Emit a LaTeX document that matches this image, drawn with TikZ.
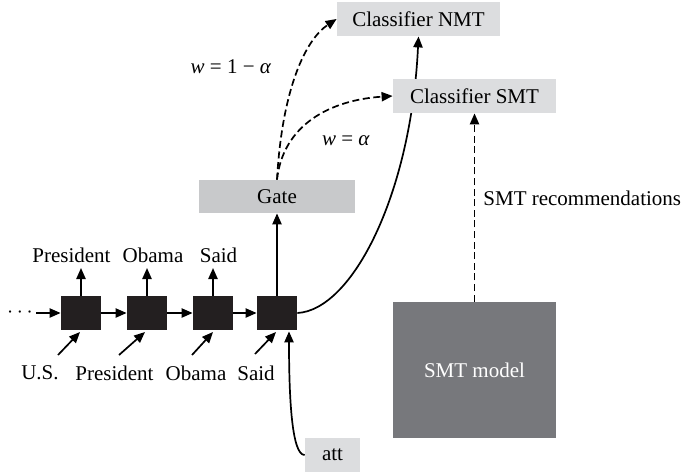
\documentclass[tikz,border=0pt]{standalone}
\usepackage{fontspec}
\setmainfont{Liberation Serif}
\usetikzlibrary{arrows.meta}
\pgfdeclarelayer{bg}
\pgfsetlayers{bg,main}
\definecolor{cellc}{HTML}{231F20}
\definecolor{lightc}{HTML}{DCDDDF}
\definecolor{gatec}{HTML}{C8C9CB}
\definecolor{modelc}{HTML}{77787C}
\begin{document}
\begin{tikzpicture}[x=0.5pt,y=-0.5pt,
  font=\fontsize{10.5pt}{12pt}\selectfont,
  arr/.style={line width=0.85pt,-{Triangle[length=5.5pt,width=4.6pt]}},
  dsh/.style={arr,dash pattern=on 3.5pt off 1.8pt},
  cell/.style={fill=cellc,draw=none,minimum width=20pt,minimum height=17pt,inner sep=0pt},
  lbox/.style={fill=lightc,draw=none,inner sep=0pt,minimum width=81.5pt,minimum height=17pt},
  word/.style={inner sep=0pt}]
\useasboundingbox (0,0) rectangle (683,471);

% boxes
\node[lbox] (nmt) at (418.5,19) {Classifier NMT};
\node[lbox] (smt) at (474.5,96) {Classifier SMT};
\node[lbox,fill=gatec,minimum width=78pt,minimum height=16.5pt] (gate) at (277,196.5) {Gate};
\node[fill=modelc,text=white,inner sep=0pt,minimum width=81.5pt,minimum height=68pt] (model) at (474.5,370) {SMT model};
\node[lbox,minimum width=27.5pt] (att) at (332.5,455) {att};

% RNN cells
\node[cell] (b1) at (81,313) {};
\node[cell] (b2) at (147,313) {};
\node[cell] (b3) at (213,313) {};
\node[cell] (b4) at (277,313) {};

\node[word] (dots) at (20,313) {$\cdots$};
\coordinate (din) at (36,313);
\draw[arr] (din) -- (b1.west);
\draw[arr] (b1.east) -- (b2.west);
\draw[arr] (b2.east) -- (b3.west);
\draw[arr] (b3.east) -- (b4.west);

% outputs
\node[word] (o1) at (71.5,255) {President};
\node[word] (o2) at (153,255) {Obama};
\node[word] (o3) at (218.5,255) {Said};
\coordinate (t1) at (81,268);
\coordinate (t2) at (147,268);
\coordinate (t3) at (213,268);
\draw[arr] (b1.north) -- (t1);
\draw[arr] (b2.north) -- (t2);
\draw[arr] (b3.north) -- (t3);

% inputs
\node[word] (i1) at (40,373) {U.S.};
\node[word] (i2) at (114.5,373) {President};
\node[word] (i3) at (196,373) {Obama};
\node[word] (i4) at (256,373) {Said};
\coordinate (s1) at (58,355); \coordinate (e1) at (80,332);
\coordinate (s2) at (119,355); \coordinate (e2) at (145,332);
\coordinate (s3) at (192,355); \coordinate (e3) at (213,332);
\coordinate (s4) at (255,354); \coordinate (e4) at (276,332);
\draw[arr] (s1) -- (e1);
\draw[arr] (s2) -- (e2);
\draw[arr] (s3) -- (e3);
\draw[arr] (s4) -- (e4);

% gate and classifiers
\draw[arr] (b4.north) -- (gate.south);
\begin{pgfonlayer}{bg}
\draw[arr] (b4.east) .. controls (352,310) and (411,195) .. (nmt.south);
\end{pgfonlayer}
\draw[dsh] (gate.north) .. controls (282,90) and (305,40) .. (nmt.west);
\draw[dsh] (gate.north) .. controls (283,125) and (330,100) .. (smt.west);
\node[word] (w1) at (231,67) {\textit{w} = 1 − \textit{α}};
\node[word] (w2) at (346,141) {\textit{w} = \textit{α}};

% attention
\coordinate (attin) at ([xshift=6pt,yshift=-0.5pt]b4.south);
\draw[arr] (att.west) .. controls (292,455) and (289,400) .. (attin);

% SMT recommendations
\draw[dsh] (model.north) -- (smt.south);
\node[word,anchor=west] (rec) at (483,198) {SMT recommendations};
\end{tikzpicture}
\end{document}
